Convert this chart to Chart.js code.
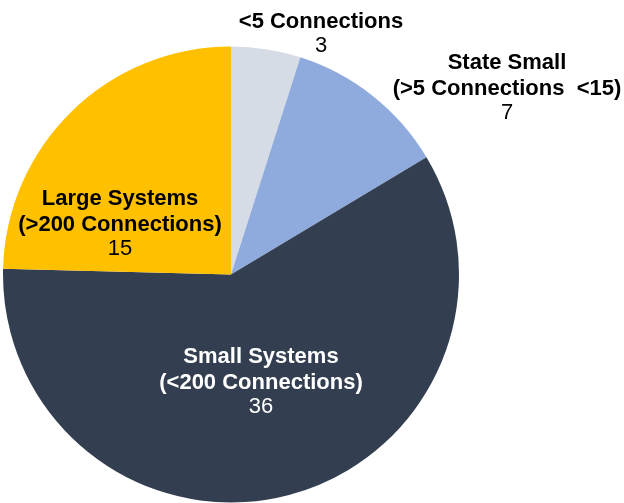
<!DOCTYPE html>
<html>
<head>
<meta charset="utf-8">
<script src="https://cdn.jsdelivr.net/npm/chart.js@4"></script>
<style>
  html, body { margin: 0; padding: 0; background: #fff; overflow: hidden; }
  #wrap { position: relative; width: 624px; height: 503px; }
  canvas { display: block; }
</style>
</head>
<body>
<div id="wrap"><canvas id="pie" width="624" height="503"></canvas></div>
<script>
const labels = ["<5 Connections", "State Small", "Small Systems", "Large Systems"];
const subLabels = ["", "(>5 Connections  <15)", "(<200 Connections)", "(>200 Connections)"];
const counts = [3, 7, 36, 15];
const colors = ["#D6DCE5", "#8FAADC", "#333F50", "#FFC000"];
const textColors = ["#000", "#000", "#fff", "#000"];

// where each label block sits (center x, first baseline y)
const labelPos = [[321, 28], [507, 69], [261, 363], [120, 205]];

const labelPlugin = {
  id: "sliceLabels",
  afterDraw(chart) {
    const c = chart.ctx;
    c.save();
    c.textAlign = "center";
    c.textBaseline = "alphabetic";
    labels.forEach((name, i) => {
      const [x, y0] = labelPos[i];
      let y = y0;
      c.fillStyle = textColors[i];
      c.font = "bold 22px 'Liberation Sans', Arial, sans-serif";
      c.fillText(name, x, y);
      if (subLabels[i]) {
        y += 26;
        c.fillText(subLabels[i], x, y);
      }
      y += 24;
      c.font = "22px 'Liberation Sans', Arial, sans-serif";
      c.fillText(String(chart.data.datasets[0].data[i]), x, y);
    });
    c.restore();
  }
};

new Chart(document.getElementById("pie"), {
  type: "pie",
  data: {
    labels: labels,
    datasets: [{
      data: counts,
      backgroundColor: colors,
      borderWidth: 0
    }]
  },
  options: {
    responsive: false,
    animation: false,
    layout: { padding: { left: 3, right: 165, top: 46, bottom: 0 } },
    plugins: { legend: { display: false }, tooltip: { enabled: false } }
  },
  plugins: [labelPlugin]
});
</script>
</body>
</html>
